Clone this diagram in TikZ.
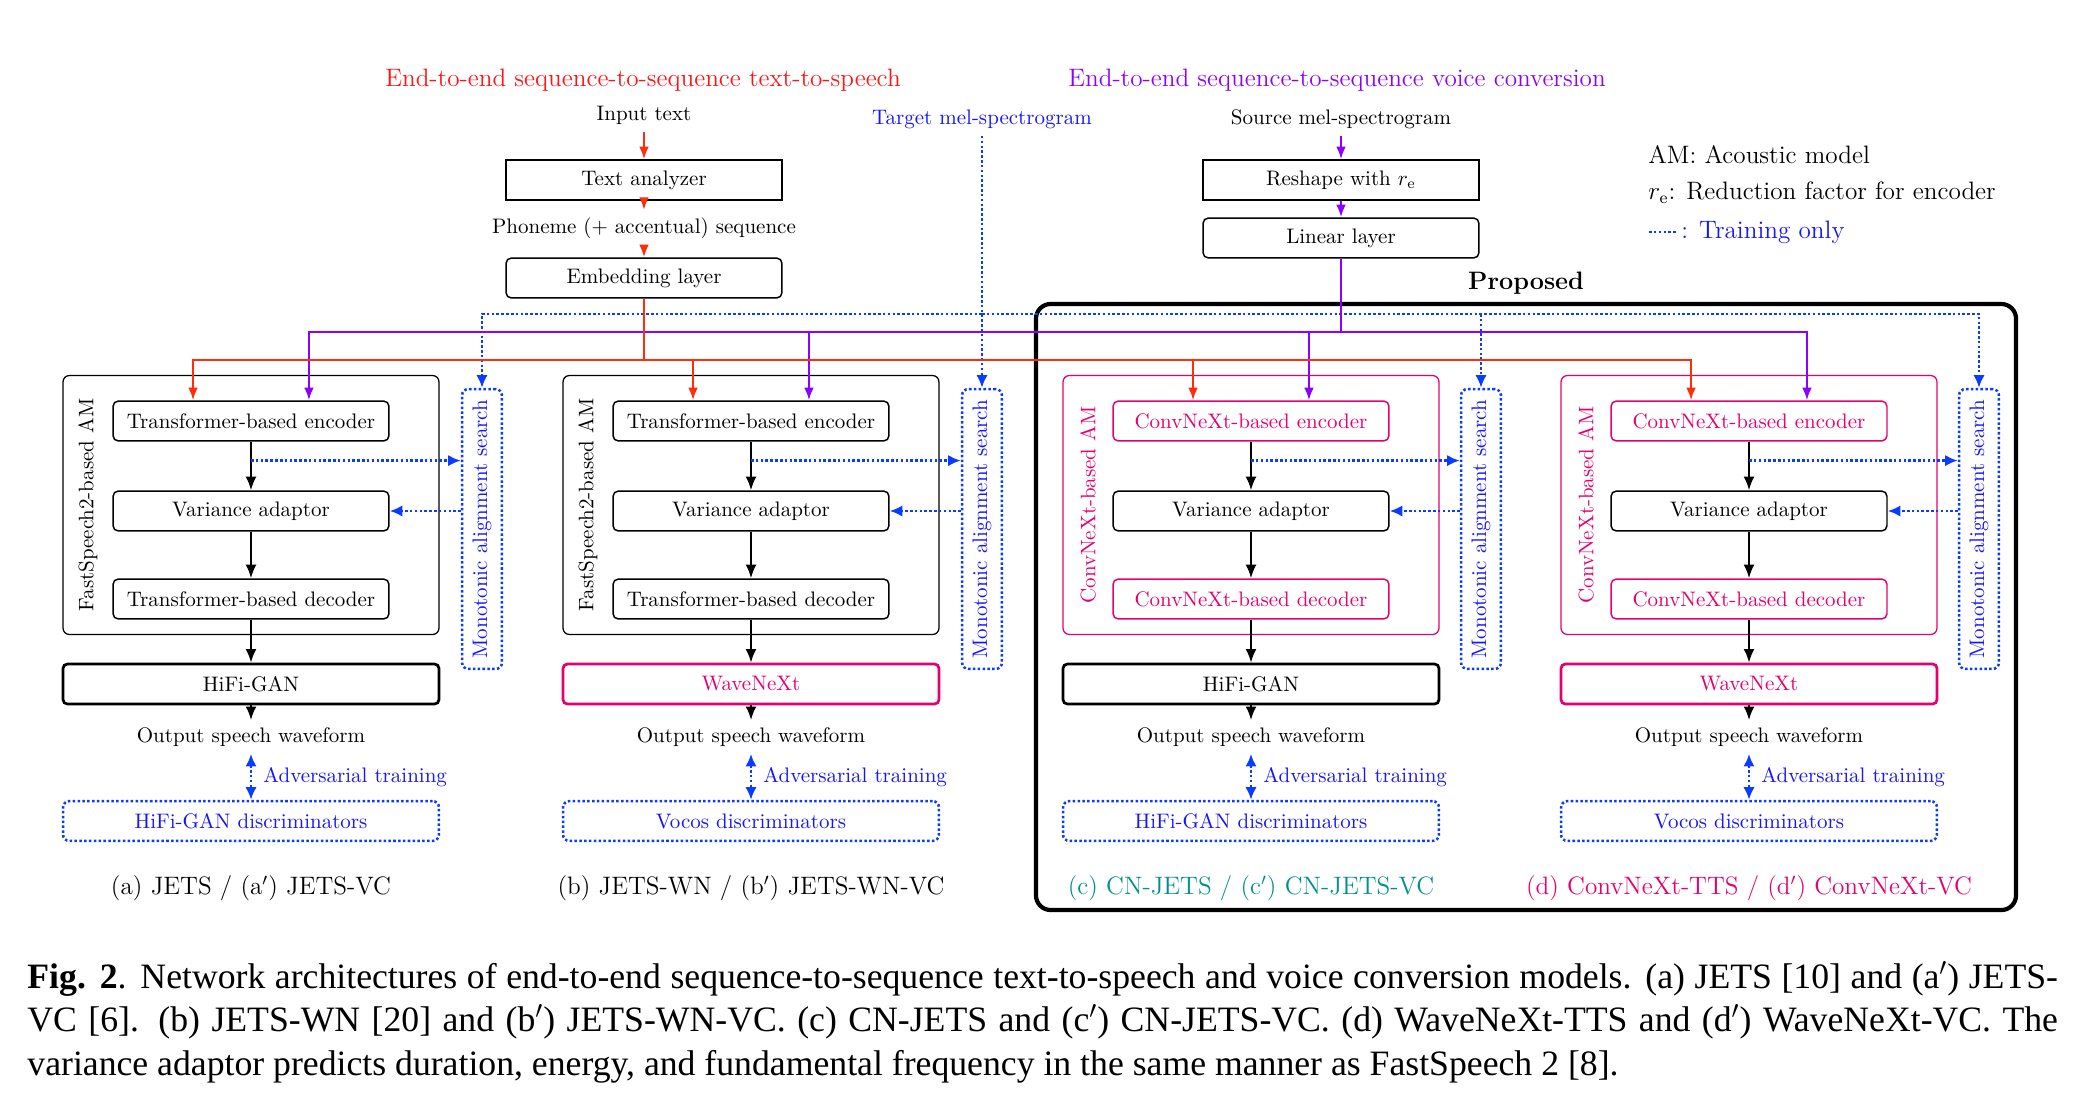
\documentclass[tikz,border=0pt]{standalone}
\usepackage{amsmath,amsfonts}
\usepackage{fontspec}
\newfontfamily\capfont{Liberation Serif}
\usetikzlibrary{arrows.meta}

\definecolor{titlered}{RGB}{255,20,20}
\definecolor{ttsred}{RGB}{255,45,10}
\definecolor{vcpurple}{RGB}{140,0,255}
\definecolor{trblue}{RGB}{10,60,255}
\definecolor{txtblue}{RGB}{20,20,255}
\definecolor{cnpink}{RGB}{230,0,110}
\definecolor{cnteal}{RGB}{0,145,140}

\tikzset{
  rbox/.style={draw, line width=0.7pt, rounded corners=2.5pt, minimum width=131.4pt, minimum height=19pt, inner sep=0pt},
  sqbox/.style={rbox, sharp corners},
  cnbox/.style={rbox, draw=cnpink, text=cnpink},
  ambox/.style={draw, line width=0.6pt, rounded corners=3pt, minimum width=179pt, minimum height=123.3pt},
  vocbox/.style={draw, line width=1.3pt, rounded corners=2pt, minimum width=179pt, minimum height=19pt, inner sep=0pt},
  trdots/.style={draw=trblue, line width=1.2pt, dash pattern=on 1.2pt off 1.1pt},
  discbox/.style={trdots, text=txtblue, rounded corners=3pt, minimum width=179pt, minimum height=19pt, inner sep=0pt},
  masbox/.style={trdots, text=txtblue, rounded corners=3pt, minimum width=19pt, minimum height=133.3pt, inner sep=0pt},
  blkarrow/.style={-{Latex[length=6.5pt,width=5.2pt]}, line width=1pt},
  ttsline/.style={draw=ttsred, line width=1.1pt},
  ttsarrow/.style={ttsline, -{Latex[length=6pt,width=4.6pt]}},
  vcline/.style={draw=vcpurple, line width=1.1pt},
  vcarrow/.style={vcline, -{Latex[length=6pt,width=4.6pt]}},
  trarrow/.style={trdots, -{Latex[length=6pt,width=5.4pt]}},
  advarrow/.style={trdots, {Latex[length=6pt,width=5.4pt]}-{Latex[length=6pt,width=5.4pt]}},
  propbox/.style={draw, line width=2pt, rounded corners=7pt, minimum width=466.7pt, minimum height=288.6pt},
}

\begin{document}
\begin{tikzpicture}[x=0.47619pt, y=-0.47619pt]
    \useasboundingbox (0,0) rectangle (2080,1106);

    % 提案手法の枠
    \node[propbox, label={[font=\large\bfseries]above:Proposed}] (prop) at (1526,607) {};

    % タイトル
    \node[font=\large, text=titlered] (ttstitle) at (643,80) {End-to-end sequence-to-sequence text-to-speech};
    \node[font=\large, text=vcpurple] (vctitle) at (1337,80) {End-to-end sequence-to-sequence voice conversion};

    % テキスト側の入力
    \node (intext) at (644,115) {Input text};
    \node[sqbox] (ana) at (644,180) {Text analyzer};
    \node (phon) at (644,228) {Phoneme (+ accentual) sequence};
    \node[rbox] (emb) at (644,278) {Embedding layer};
    \draw[ttsarrow] (intext) -- (ana);
    \draw[ttsarrow] (ana) -- (phon);
    \draw[ttsarrow] (phon) -- (emb);

    % 音声側の入力
    \node (src) at (1341,119) {Source mel-spectrogram};
    \node[sqbox] (resh) at (1341,180) {Reshape with $r_{\mathrm{e}}$};
    \node[rbox] (lin) at (1341,238) {Linear layer};
    \draw[vcarrow] (src) -- (resh);
    \draw[vcarrow] (resh) -- (lin);

    % 学習時のみ
    \node[text=txtblue] (tgt) at (982,119) {Target mel-spectrogram};

    % 凡例
    \node[font=\large, anchor=west, inner sep=0pt] (lgam) at (1648,155) {AM: Acoustic model};
    \node[font=\large, anchor=west, inner sep=0pt] (lgre) at (1648,193) {$r_{\mathrm{e}}$: Reduction factor for encoder};
    \draw[trdots] (1649,232) -- (1677,232);
    \node[font=\large, anchor=west, inner sep=0pt, text=txtblue] (lgtr) at (1681,232) {: Training only};

    % (a) JETS
    \node[ambox] (ama) at (251,505) {};
    \node[rotate=90] (amla) at (88,505) {FastSpeech2-based AM};
    \node[rbox] (enca) at (251,421) {Transformer-based encoder};
    \node[rbox] (vaa) at (251,511) {Variance adaptor};
    \node[rbox] (deca) at (251,599) {Transformer-based decoder};
    \node[vocbox] (voca) at (251,684) {HiFi-GAN};
    \node (outa) at (251,737) {Output speech waveform};
    \node[discbox] (disca) at (251,821) {HiFi-GAN discriminators};
    \node[masbox] (masa) at (482,529) {\rotatebox{90}{Monotonic alignment search}};
    \node[font=\large] (capa) at (251,888) {(a) JETS / (a$'$) JETS-VC};

    % (b) JETS-WN
    \node[ambox] (amb) at (751,505) {};
    \node[rotate=90] (amlb) at (588,505) {FastSpeech2-based AM};
    \node[rbox] (encb) at (751,421) {Transformer-based encoder};
    \node[rbox] (vab) at (751,511) {Variance adaptor};
    \node[rbox] (decb) at (751,599) {Transformer-based decoder};
    \node[vocbox, draw=cnpink, text=cnpink] (vocb) at (751,684) {WaveNeXt};
    \node (outb) at (751,737) {Output speech waveform};
    \node[discbox] (discb) at (751,821) {Vocos discriminators};
    \node[masbox] (masb) at (982,529) {\rotatebox{90}{Monotonic alignment search}};
    \node[font=\large] (capb) at (751,888) {(b) JETS-WN / (b$'$) JETS-WN-VC};

    % (c) CN-JETS
    \node[ambox, draw=cnpink] (amc) at (1251,505) {};
    \node[rotate=90, text=cnpink] (amlc) at (1088,505) {ConvNeXt-based AM};
    \node[cnbox] (encc) at (1251,421) {ConvNeXt-based encoder};
    \node[rbox] (vac) at (1251,511) {Variance adaptor};
    \node[cnbox] (decc) at (1251,599) {ConvNeXt-based decoder};
    \node[vocbox] (vocc) at (1251,684) {HiFi-GAN};
    \node (outc) at (1251,737) {Output speech waveform};
    \node[discbox] (discc) at (1251,821) {HiFi-GAN discriminators};
    \node[masbox] (masc) at (1481,529) {\rotatebox{90}{Monotonic alignment search}};
    \node[font=\large, text=cnteal] (capc) at (1251,888) {(c) CN-JETS / (c$'$) CN-JETS-VC};

    % (d) ConvNeXt-TTS
    \node[ambox, draw=cnpink] (amd) at (1749,505) {};
    \node[rotate=90, text=cnpink] (amld) at (1586,505) {ConvNeXt-based AM};
    \node[cnbox] (encd) at (1749,421) {ConvNeXt-based encoder};
    \node[rbox] (vad) at (1749,511) {Variance adaptor};
    \node[cnbox] (decd) at (1749,599) {ConvNeXt-based decoder};
    \node[vocbox, draw=cnpink, text=cnpink] (vocd) at (1749,684) {WaveNeXt};
    \node (outd) at (1749,737) {Output speech waveform};
    \node[discbox] (discd) at (1749,821) {Vocos discriminators};
    \node[masbox] (masd) at (1979,529) {\rotatebox{90}{Monotonic alignment search}};
    \node[font=\large, text=cnpink] (capd) at (1749,888) {(d) ConvNeXt-TTS / (d$'$) ConvNeXt-VC};

    % 各モデル内の流れ
    \draw[blkarrow] (enca) -- (vaa);
    \draw[blkarrow] (vaa) -- (deca);
    \draw[blkarrow] (deca) -- (voca);
    \draw[blkarrow] (voca) -- (outa);
    \draw[blkarrow] (encb) -- (vab);
    \draw[blkarrow] (vab) -- (decb);
    \draw[blkarrow] (decb) -- (vocb);
    \draw[blkarrow] (vocb) -- (outb);
    \draw[blkarrow] (encc) -- (vac);
    \draw[blkarrow] (vac) -- (decc);
    \draw[blkarrow] (decc) -- (vocc);
    \draw[blkarrow] (vocc) -- (outc);
    \draw[blkarrow] (encd) -- (vad);
    \draw[blkarrow] (vad) -- (decd);
    \draw[blkarrow] (decd) -- (vocd);
    \draw[blkarrow] (vocd) -- (outd);

    % アライメント探索
    \coordinate (sra) at ([yshift=-9pt]enca.south);
    \coordinate (srb) at ([yshift=-9pt]encb.south);
    \coordinate (src2) at ([yshift=-9pt]encc.south);
    \coordinate (srd) at ([yshift=-9pt]encd.south);
    \draw[trarrow] (sra) -- (sra -| masa.west);
    \draw[trarrow] (srb) -- (srb -| masb.west);
    \draw[trarrow] (src2) -- (src2 -| masc.west);
    \draw[trarrow] (srd) -- (srd -| masd.west);
    \draw[trarrow] (masa.west |- vaa) -- (vaa.east);
    \draw[trarrow] (masb.west |- vab) -- (vab.east);
    \draw[trarrow] (masc.west |- vac) -- (vac.east);
    \draw[trarrow] (masd.west |- vad) -- (vad.east);

    % 敵対的学習
    \draw[advarrow] (outa) -- (disca) node[midway, right=2pt, text=txtblue] {Adversarial training};
    \draw[advarrow] (outb) -- (discb) node[midway, right=2pt, text=txtblue] {Adversarial training};
    \draw[advarrow] (outc) -- (discc) node[midway, right=2pt, text=txtblue] {Adversarial training};
    \draw[advarrow] (outd) -- (discd) node[midway, right=2pt, text=txtblue] {Adversarial training};

    % 目標メルスペクトログラムの分配
    \coordinate (trbus) at (982,314);
    \draw[trarrow] (tgt) -- (masb);
    \draw[trarrow] (trbus) -| (masa);
    \draw[trarrow] (trbus) -| (masd);
    \draw[trarrow] (masc |- trbus) -- (masc);

    % 音声側の分配
    \coordinate (vcbus) at (1341,332);
    \coordinate (vca) at ([xshift=27.6pt]enca.north);
    \coordinate (vcb) at ([xshift=27.6pt]encb.north);
    \coordinate (vcc) at ([xshift=27.6pt]encc.north);
    \coordinate (vcd) at ([xshift=27.6pt]encd.north);
    \draw[vcline] (lin) -- (vcbus);
    \draw[vcarrow] (vcbus) -| (vca);
    \draw[vcarrow] (vcbus) -| (vcd);
    \draw[vcarrow] (vcb |- vcbus) -- (vcb);
    \draw[vcarrow] (vcc |- vcbus) -- (vcc);

    % テキスト側の分配
    \coordinate (ttsbus) at (644,360);
    \coordinate (tta) at ([xshift=-27.6pt]enca.north);
    \coordinate (ttb) at ([xshift=-27.6pt]encb.north);
    \coordinate (ttc) at ([xshift=-27.6pt]encc.north);
    \coordinate (ttd) at ([xshift=-27.6pt]encd.north);
    \draw[ttsline] (emb) -- (ttsbus);
    \draw[ttsarrow] (ttsbus) -| (tta);
    \draw[ttsarrow] (ttsbus) -| (ttd);
    \draw[ttsarrow] (ttb |- ttsbus) -- (ttb);
    \draw[ttsarrow] (ttc |- ttsbus) -- (ttc);

    % キャプション
    \node[anchor=north west, inner sep=0pt, text width=967pt, align=justify, font=\capfont\fontsize{17}{20.6}\selectfont] (cap) at (27,961) {\textbf{Fig. 2}. Network architectures of end-to-end sequence-to-sequence text-to-speech and voice conversion models. (a) JETS [10] and (a$'$) JETS-\linebreak VC [6]. (b) JETS-WN [20] and (b$'$) JETS-WN-VC. (c) CN-JETS and (c$'$) CN-JETS-VC. (d) WaveNeXt-TTS and (d$'$) WaveNeXt-VC. The\linebreak variance adaptor predicts duration, energy, and fundamental frequency in the same manner as FastSpeech 2 [8].};
\end{tikzpicture}
\end{document}
